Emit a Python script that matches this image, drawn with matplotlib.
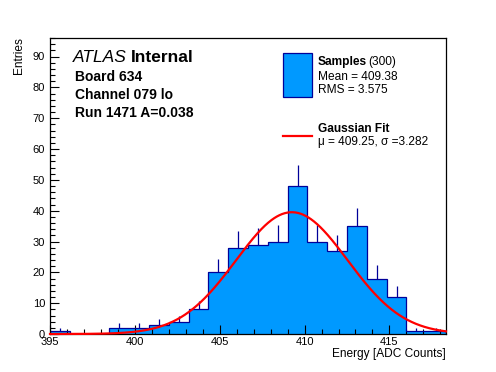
import numpy as np
import matplotlib
matplotlib.use("Agg")
import matplotlib.pyplot as plt
from matplotlib.ticker import MultipleLocator
from matplotlib.patches import Rectangle
from matplotlib.lines import Line2D

plt.rcParams['font.family'] = ['Liberation Sans', 'DejaVu Sans']

# ---- data ----
x_min = 395.0
x_max = 395.0 + 20 * 7 / 6  # 20 bins of width 7/6
counts = [1, 0, 0, 2, 2, 3, 4, 8, 20, 28, 29, 30, 48, 30, 27, 35, 18, 12, 1, 1]
fit_mu = 409.25
fit_sigma = 3.282
fit_amp = 39.5
y_max = 96
x_ticks = [395, 400, 405, 410, 415]
y_ticks = [0, 10, 20, 30, 40, 50, 60, 70, 80, 90]

counts = np.array(counts, dtype=float)
edges = np.linspace(x_min, x_max, len(counts) + 1)
centers = 0.5 * (edges[:-1] + edges[1:])

fill_c = '#0099ff'
edge_c = '#000099'

W, H = 496, 372
fig = plt.figure(figsize=(W / 100, H / 100), dpi=100)
ax = fig.add_axes([50 / W, (H - 334) / H, 396 / W, 296 / H])

ax.stairs(counts, edges, fill=True, facecolor=fill_c, edgecolor='none', zorder=1)
ax.stairs(counts, edges, fill=False, color=edge_c, lw=0.9, zorder=2)
m = counts > 0
ax.vlines(centers[m], counts[m], counts[m] + np.sqrt(counts[m]), color=edge_c, lw=0.9, zorder=2)

xf = np.linspace(x_min, x_max, 600)
yf = fit_amp * np.exp(-0.5 * ((xf - fit_mu) / fit_sigma) ** 2)
ax.plot(xf, yf, color='#ff0000', lw=1.6, zorder=3, clip_on=False)

ax.set_xlim(x_min, x_max)
ax.set_ylim(0, y_max)
ax.set_xticks(x_ticks)
ax.set_yticks(y_ticks)
ax.xaxis.set_minor_locator(MultipleLocator(1))
ax.yaxis.set_minor_locator(MultipleLocator(2))
ax.tick_params(which='both', direction='in', top=False, right=False, labelsize=8, width=0.8)
ax.tick_params(which='major', length=6.5)
ax.tick_params(which='minor', length=3.6)
ax.tick_params(axis='y', pad=3.5)
ax.tick_params(axis='x', pad=2.5)
for s in ax.spines.values():
    s.set_linewidth(0.9)

def fx(px):
    return px / W

def fy(py):
    return (H - py) / H

fig.text(fx(446), fy(357), 'Energy [ADC Counts]', ha='right', va='baseline', fontsize=8.6)
fig.text(fx(19), fy(37), 'Entries', ha='center', va='top', rotation=90, fontsize=8.6)

# ATLAS block
t = fig.text(fx(73), fy(61.7), 'ATLAS', fontsize=12.5, style='italic', ha='left', va='baseline')
fig.canvas.draw()
bb = t.get_window_extent()
fig.text(bb.x1 / W + 4 / W, fy(61.7), 'Internal', fontsize=12.5, weight='bold', ha='left', va='baseline')
fig.text(fx(75), fy(80.7), 'Board 634', fontsize=10, weight='bold', va='baseline')
fig.text(fx(75), fy(99), 'Channel 079 lo', fontsize=10, weight='bold', va='baseline')
fig.text(fx(75), fy(117.3), 'Run 1471 A=0.038', fontsize=10, weight='bold', va='baseline')

# legend
fig.patches.append(Rectangle((fx(283), fy(96.7)), (311.7 - 283) / W, (96.7 - 53.3) / H,
                             transform=fig.transFigure, facecolor=fill_c, edgecolor=edge_c, lw=0.9))
fig.lines.append(Line2D([fx(283), fx(311.7)], [fy(135.7), fy(135.7)], transform=fig.transFigure,
                        color='#ff0000', lw=1.6))
ts = fig.text(fx(317.7), fy(65), 'Samples', fontsize=8.6, weight='bold', va='baseline')
fig.canvas.draw()
bb = ts.get_window_extent()
fig.text(bb.x1 / W + 1.5 / W, fy(65), '(300)', fontsize=8.6, va='baseline')
fig.text(fx(317.7), fy(80), 'Mean = 409.38', fontsize=8.6, va='baseline')
fig.text(fx(317.7), fy(93.3), 'RMS = 3.575', fontsize=8.6, va='baseline')
fig.text(fx(317.7), fy(132.3), 'Gaussian Fit', fontsize=8.6, weight='bold', va='baseline')
fig.text(fx(317.7), fy(145), 'μ = 409.25, σ =3.282', fontsize=8.6, va='baseline')

fig.savefig('out.png', dpi=100, facecolor='white')
